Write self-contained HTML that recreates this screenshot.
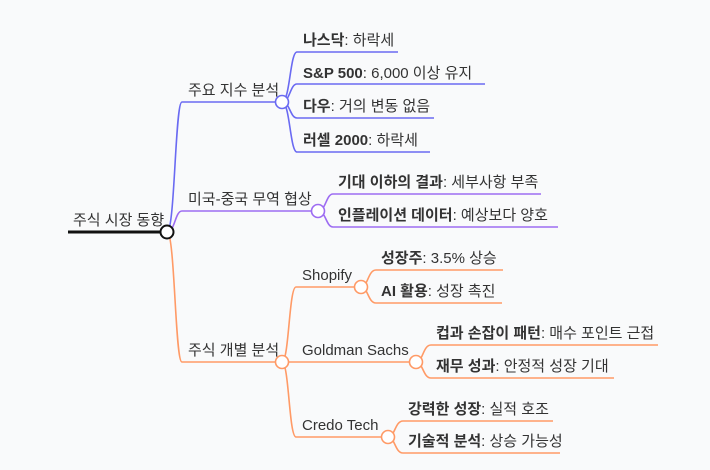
<!DOCTYPE html>
<html><head><meta charset="utf-8"><style>
html,body{margin:0;padding:0;background:#f9fafb;width:710px;height:470px;overflow:hidden}
svg text{font-family:"Liberation Sans","Noto Sans CJK KR",sans-serif;font-size:15px;fill:#333}
.b{font-weight:bold}
</style></head><body>
<svg width="710" height="470" xmlns="http://www.w3.org/2000/svg">
<g fill="none" stroke-width="1.6">
<line x1="68" y1="232" x2="167" y2="232" stroke="#111" stroke-width="3"/>
<g stroke="#6a6af2">
<path d="M167,232 C175,232 175,102 182,102 L282,102"/>
<path d="M282,102 C290,102 290,52 297,52 L398,52"/>
<path d="M282,102 C290,102 290,84 297,84 L485,84"/>
<path d="M282,102 C290,102 290,118 297,118 L434,118"/>
<path d="M282,102 C290,102 290,152 297,152 L430,152"/>
</g>
<g stroke="#9d6cf2">
<path d="M167,232 C175,232 175,211 182,211 L318,211"/>
<path d="M318,211 C326,211 326,194 333,194 L541,194"/>
<path d="M318,211 C326,211 326,227 333,227 L558,227"/>
</g>
<g stroke="#ff9a66">
<path d="M167,232 C175,232 175,362 182,362 L282,362"/>
<path d="M282,362 C289,362 289,287 296,287 L361,287"/>
<path d="M282,362 L416,362"/>
<path d="M282,362 C289,362 289,437 296,437 L388,437"/>
<path d="M361,287 C368,287 368,270 376,270 L503,270"/>
<path d="M361,287 C368,287 368,303 376,303 L502,303"/>
<path d="M416,362 C423,362 423,345 431,345 L658,345"/>
<path d="M416,362 C423,362 423,378 431,378 L614,378"/>
<path d="M388,437 C395,437 395,421 403,421 L553,421"/>
<path d="M388,437 C395,437 395,453 403,453 L560,453"/>
</g>
<circle cx="167" cy="232" r="6.5" fill="#fff" stroke="#111" stroke-width="2"/>
<circle cx="282" cy="102" r="6.5" fill="#fff" stroke="#6a6af2"/>
<circle cx="318" cy="211" r="6.5" fill="#fff" stroke="#9d6cf2"/>
<circle cx="282" cy="362" r="6.5" fill="#fff" stroke="#ff9a66"/>
<circle cx="361" cy="287" r="6.5" fill="#fff" stroke="#ff9a66"/>
<circle cx="416" cy="362" r="6.5" fill="#fff" stroke="#ff9a66"/>
<circle cx="388" cy="437" r="6.5" fill="#fff" stroke="#ff9a66"/>
</g>
<text x="73" y="225">주식 시장 동향</text>
<text x="188" y="95">주요 지수 분석</text>
<text x="188" y="204">미국-중국 무역 협상</text>
<text x="188" y="355">주식 개별 분석</text>
<text x="303" y="45"><tspan class="b">나스닥</tspan>: 하락세</text>
<text x="303" y="78"><tspan class="b">S&amp;P 500</tspan>: 6,000 이상 유지</text>
<text x="303" y="111"><tspan class="b">다우</tspan>: 거의 변동 없음</text>
<text x="303" y="145"><tspan class="b">러셀 2000</tspan>: 하락세</text>
<text x="338" y="187"><tspan class="b">기대 이하의 결과</tspan>: 세부사항 부족</text>
<text x="338" y="220"><tspan class="b">인플레이션 데이터</tspan>: 예상보다 양호</text>
<text x="302" y="280">Shopify</text>
<text x="302" y="355">Goldman Sachs</text>
<text x="302" y="430">Credo Tech</text>
<text x="381" y="263"><tspan class="b">성장주</tspan>: 3.5% 상승</text>
<text x="381" y="296"><tspan class="b">AI 활용</tspan>: 성장 촉진</text>
<text x="436" y="338"><tspan class="b">컵과 손잡이 패턴</tspan>: 매수 포인트 근접</text>
<text x="436" y="371"><tspan class="b">재무 성과</tspan>: 안정적 성장 기대</text>
<text x="408" y="414"><tspan class="b">강력한 성장</tspan>: 실적 호조</text>
<text x="408" y="446"><tspan class="b">기술적 분석</tspan>: 상승 가능성</text>
</svg>
</body></html>
